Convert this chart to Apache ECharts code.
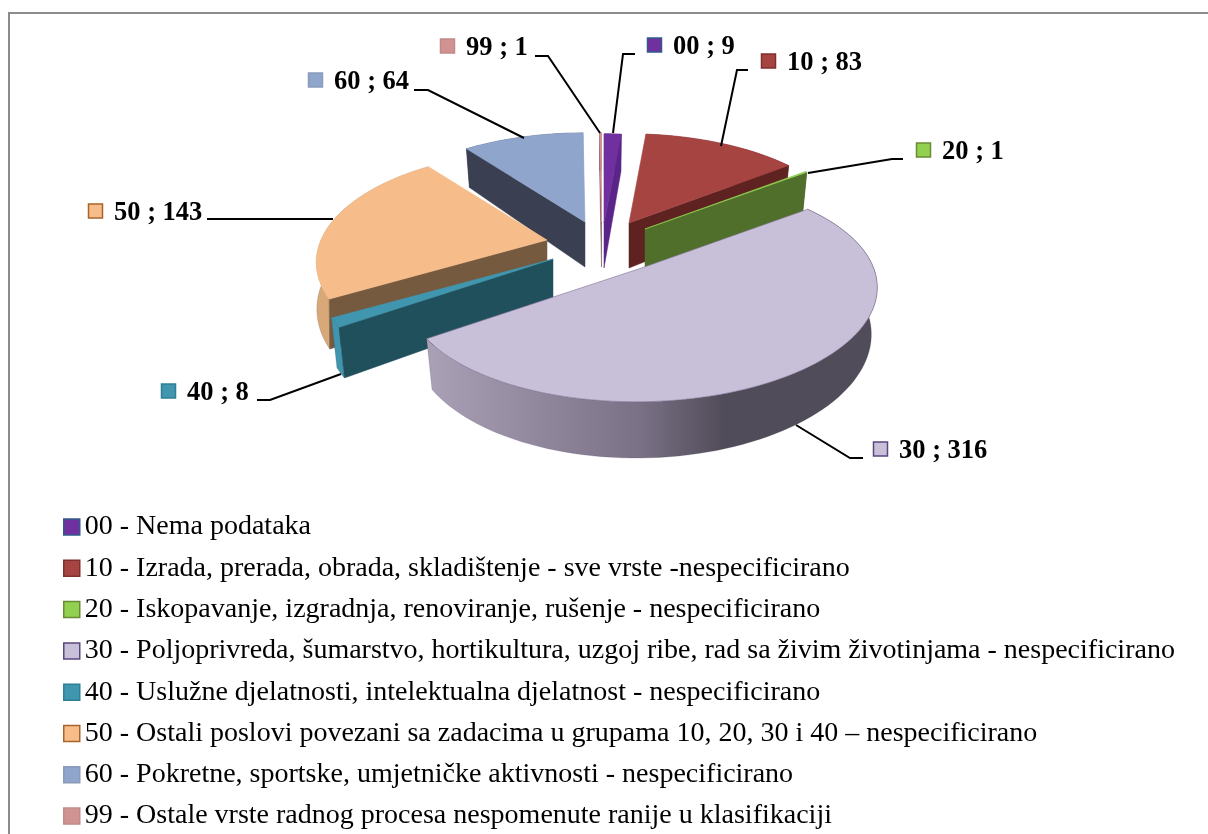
<!DOCTYPE html>
<html>
<head>
<meta charset="utf-8">
<style>html,body{margin:0;padding:0;background:#fff}#c{width:1208px;height:834px}</style>
<script src="https://cdn.jsdelivr.net/npm/echarts@6/dist/echarts.min.js"></script>
</head>
<body>
<div id="c"></div>
<script>
const codes = ['00','10','20','30','40','50','60','99'];
const values = [9,83,1,316,8,143,64,1];
const legendNames = [
  '00 - Nema podataka',
  '10 - Izrada, prerada, obrada, skladištenje - sve vrste -nespecificirano',
  '20 - Iskopavanje, izgradnja, renoviranje, rušenje - nespecificirano',
  '30 - Poljoprivreda, šumarstvo, hortikultura, uzgoj ribe, rad sa živim životinjama - nespecificirano',
  '40 - Uslužne djelatnosti, intelektualna djelatnost - nespecificirano',
  '50 - Ostali poslovi povezani sa zadacima u grupama 10, 20, 30 i 40 – nespecificirano',
  '60 - Pokretne, sportske, umjetničke aktivnosti - nespecificirano',
  '99 - Ostale vrste radnog procesa nespomenute ranije u klasifikaciji'
];
const faceColors = ['#7030a0','#a64442','#92d050','#c8bfd8','#3f96ae','#f6bd8a','#8fa5cc','#d09392'];
const cutColors  = ['#5a2588','#5e2220','#4f6f2a','#6f667c','#21505d','#765a40','#3a4052','#7a5050'];
const keyBorders = ['#2f5a8a','#7f2f2d','#6a8a35','#5b4680','#2f7f95','#a8642a','#8a9ab8','#c08a8a'];
const rimColors  = ['#5a2588','#5e2220','#4f6f2a',null,'#3f96ae','#d9a878','#3a4052','#7a5050'];

// projection + layout (pixels), separate from the data
const radii = [230,224,225,231,230,226,226,230];
const shear = [0,0,0,0.012,0,0,0,0];
const bottomScale = [0.975,0.975,0.975,0.975,0.975,0.998,0.975,0.975];
const T = 107, PERSP = 0.2, DEPTH = 45;
const apex = [[604,223],[629,223],[645,229],[641.5,268],[553,259],[547,240],[585,222],[601.5,222]];
const labelAt = [[647,45],[761,61],[916,150],[873,449],[161,391],[88,211],[308,80],[440,46]];
const leaders = [
  [[635,54],[623,54],[613,133]],
  [[748,70],[737,70],[721,146]],
  [[903,159],[892,159],[808,173]],
  [[863,458],[850,458],[796,425]],
  [[257,400],[270,400],[341,374]],
  [[207,219],[333,219]],
  [[414,90],[428,90],[524,138]],
  [[535,56],[548,56],[600,133]]
];
const paintOrder = [6,7,0,1,2,5,4,3];

const total = values.reduce((a,b)=>a+b,0);
const startDeg = values.map((_,i)=>values.slice(0,i).reduce((a,b)=>a+b,0)/total*360);

function rim(i, deg, bottom){
  const t = deg*Math.PI/180, X = Math.sin(t), Z = -Math.cos(t), s = 1/(1-PERSP*Z);
  const dx = radii[i]*X*s, dy = T*Z*s - shear[i]*dx;
  return bottom
    ? [apex[i][0]+dx*bottomScale[i], apex[i][1]+dy+DEPTH*s]
    : [apex[i][0]+dx, apex[i][1]+dy];
}
function area(p){
  let a=0; for(let k=0;k<p.length;k++){const q=p[(k+1)%p.length];a+=p[k][0]*q[1]-q[0]*p[k][1];}
  return a/2;
}
function poly(points, fill, stroke, lw){
  return {type:'polygon', shape:{points}, style:{fill, stroke:stroke||fill, lineWidth:lw==null?0.5:lw}};
}
function renderSlice(i){
  return function(params, api){
    const v = api.value(0);
    const a0 = startDeg[i], a1 = a0 + v/total*360;
    const n = Math.max(2, Math.ceil((a1-a0)/2)+1);
    const topArc=[], botArc=[];
    for(let k=0;k<n;k++){
      const d = a0+(a1-a0)*k/(n-1);
      topArc.push(rim(i,d,false)); botArc.push(rim(i,d,true));
    }
    const A = apex[i], B = [A[0],A[1]+DEPTH];
    const kids = [];
    const rimFill = rimColors[i] || {type:'linear',x:0,y:0,x2:1,y2:0,colorStops:[
      {offset:0,color:'#aaa1b7'},{offset:0.47,color:'#7a7186'},{offset:0.66,color:'#514c59'},{offset:1,color:'#514c59'}]};
    kids.push({type:'polygon',shape:{points:topArc.concat(botArc.slice().reverse())},style:{fill:rimFill,stroke:'rgba(70,60,80,0.35)',lineWidth:0.5}});
    const qs = [A,topArc[0],botArc[0],B];
    if(area(qs)<0) kids.push(poly(qs,cutColors[i]));
    const qe = [A,topArc[n-1],botArc[n-1],B];
    if(area(qe)>0) kids.push(poly(qe,cutColors[i]));
    kids.push(poly([A].concat(topArc),faceColors[i],i===3?'#7d7192':faceColors[i],0.6));
    kids.push({type:'polyline',shape:{points:leaders[i]},style:{fill:null,stroke:'#000',lineWidth:2}});
    const L = labelAt[i];
    kids.push({type:'rect',shape:{x:L[0]+0.5,y:L[1]-7,width:14,height:14},style:{fill:faceColors[i],stroke:keyBorders[i],lineWidth:1.5}});
    kids.push({type:'text',style:{text:codes[i]+' ; '+v,x:L[0]+26,y:L[1]+2,fill:'#000',
      font:'bold 26.5px "Liberation Serif"',verticalAlign:'middle',align:'left'}});
    return {type:'group',children:kids};
  };
}

const series = paintOrder.map(i=>({
  type:'custom', name:legendNames[i], coordinateSystem:'none', silent:true, animation:false,
  clip:false, data:[[values[i]]], itemStyle:{color:faceColors[i]}, renderItem:renderSlice(i)
}));

const chart = echarts.init(document.getElementById('c'),null,{renderer:'canvas',width:1208,height:834});
chart.setOption({
  backgroundColor:'#fff',
  animation:false,
  graphic:[{type:'polyline',shape:{points:[[9,834],[9,13],[1208,13]]},style:{fill:null,stroke:'#8c8c8c',lineWidth:2},silent:true}],
  legend:{
    orient:'vertical', left:63, top:513, width:1140, height:360, padding:0,
    itemWidth:16, itemHeight:16, itemGap:13.3,
    selectedMode:false, icon:'rect',
    textStyle:{fontFamily:'Liberation Serif',fontSize:28,color:'#000',lineHeight:28},
    data:legendNames.map((name,i)=>({name,icon:'rect',itemStyle:{color:faceColors[i],borderColor:keyBorders[i],borderWidth:1.5}}))
  },
  series
});
</script>
</body>
</html>
